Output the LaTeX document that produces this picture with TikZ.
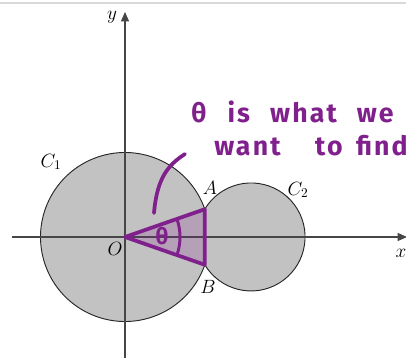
\documentclass[tikz,border=0pt]{standalone}
\usepackage{fontspec}
\usepackage{tikz}
\usetikzlibrary{arrows.meta}
\newfontfamily\handfont[LetterSpace=8]{Fira Sans}
\newcommand\handgap[1]{\hspace{#1pt}}
\definecolor{handpurple}{RGB}{128, 32, 140}
\definecolor{discgray}{RGB}{194, 194, 194}
\definecolor{axisgray}{RGB}{70, 70, 70}

\begin{document}
\begin{tikzpicture}[x=0.75pt, y=0.75pt,
		disc/.style={draw=black!85, line width=0.7pt, fill=discgray},
		axis/.style={draw=axisgray, line width=0.8pt, -{Triangle[length=7pt, width=6pt]}},
		lbl/.style={inner sep=1pt, font=\fontsize{14}{16}\selectfont},
		handline/.style={draw=handpurple, line width=2.8pt, line cap=round, line join=round},
		handtext/.style={text=handpurple, inner sep=0pt, anchor=west, font=\handfont\bfseries\fontsize{20}{24}\selectfont}
	]
	\useasboundingbox (0,0) rectangle (406,360);
	\draw[black!15, line width=0.8pt] (0,357) -- (406,357);

	% the two circles, one outline round both
	\coordinate (O) at (125,123);
	\coordinate (c2) at (251,123);
	\coordinate (A) at (204.8,150.8);
	\coordinate (B) at (204.8,95.2);
	\draw[disc] (A) arc[start angle=19.21, end angle=340.79, radius=84.5]
		arc[start angle=-148.96, end angle=148.96, radius=54] -- cycle;

	% axes
	\coordinate (xstart) at (12,123);
	\coordinate (xend) at (407,123);
	\coordinate (ystart) at (125,2);
	\coordinate (yend) at (125,348);
	\draw[axis] (xstart) -- (xend);
	\draw[axis] (ystart) -- (yend);

	\node[lbl] (ylab) at (112,343) {$y$};
	\node[lbl] (xlab) at (401,107) {$x$};
	\node[lbl] (olab) at (115,111) {$O$};
	\node[lbl] (alab) at (210,172) {$A$};
	\node[lbl] (blab) at (208,73) {$B$};
	\node[lbl] (c1lab) at (51,198) {$C_1$};
	\node[lbl] (c2lab) at (298,170) {$C_2$};

	% handwritten notes
	\fill[handpurple, fill opacity=0.2] (O) -- (A) -- (B) -- cycle;
	\draw[handline] (O) -- (A) -- (B) -- cycle;
	\draw[handline, line width=2.2pt] ([shift={(-19.2:55)}]O) arc[start angle=-19.2, end angle=19.2, radius=55];
	\node[text=handpurple, font=\handfont\bfseries\fontsize{17}{18}\selectfont, inner sep=0pt] (theta) at (162,124) {θ};
	\coordinate (tailstart) at (154,147);
	\coordinate (tailend) at (185,206);
	\draw[handline] (tailstart) .. controls (157,182) and (168,195) .. (tailend);
	\node[handtext] (note1) at (191,248) {θ\handgap{16}is\handgap{15}what\handgap{15}we};
	\node[handtext] (note2) at (214,214) {want\handgap{26}to\handgap{10}find};
\end{tikzpicture}
\end{document}
